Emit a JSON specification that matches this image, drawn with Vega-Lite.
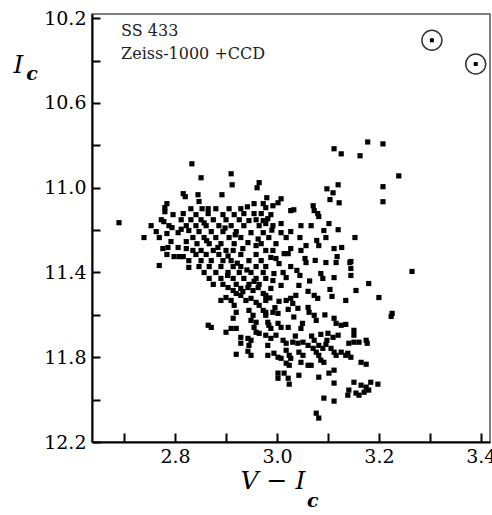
{
"$schema": "https://vega.github.io/schema/vega-lite/v6.json",
"width": 398, "height": 428,
"autosize": {"type": "none"},
"padding": {"left": 92, "top": 14, "right": 2, "bottom": 73},
"background": "white",
"config": {"view": {"stroke": "#555", "strokeWidth": 1.5}},
"datasets": {
"stars": [
{"vi":3.112,"ic":10.816},{"vi":3.126,"ic":10.840},{"vi":3.178,"ic":10.784},{"vi":3.208,"ic":10.793},{"vi":3.163,"ic":10.849},{"vi":3.239,"ic":10.944},{"vi":3.208,"ic":10.995},{"vi":3.208,"ic":11.066},{"vi":3.120,"ic":10.986},{"vi":3.098,"ic":11.005},{"vi":3.110,"ic":11.024},{"vi":3.104,"ic":11.056},{"vi":3.122,"ic":11.071},{"vi":3.265,"ic":11.395},{"vi":3.226,"ic":11.593},{"vi":3.224,"ic":11.607},{"vi":3.200,"ic":11.518},{"vi":3.155,"ic":11.485},{"vi":3.153,"ic":11.235},{"vi":3.145,"ic":11.348},{"vi":3.145,"ic":11.381},{"vi":3.145,"ic":11.414},{"vi":3.180,"ic":11.452},{"vi":3.135,"ic":11.532},{"vi":3.135,"ic":11.645},{"vi":3.151,"ic":11.673},{"vi":3.151,"ic":11.696},{"vi":3.141,"ic":11.734},{"vi":3.151,"ic":11.729},{"vi":3.161,"ic":11.729},{"vi":3.175,"ic":11.720},{"vi":3.177,"ic":11.734},{"vi":3.139,"ic":11.781},{"vi":3.145,"ic":11.800},{"vi":3.165,"ic":11.824},{"vi":3.175,"ic":11.833},{"vi":3.151,"ic":11.918},{"vi":3.165,"ic":11.932},{"vi":3.184,"ic":11.918},{"vi":3.198,"ic":11.927},{"vi":3.175,"ic":11.941},{"vi":3.180,"ic":11.955},{"vi":3.141,"ic":11.955},{"vi":3.155,"ic":11.969},{"vi":3.161,"ic":11.979},{"vi":3.171,"ic":11.965},{"vi":3.139,"ic":11.979},{"vi":3.092,"ic":11.993},{"vi":3.112,"ic":12.007},{"vi":3.077,"ic":12.064},{"vi":3.082,"ic":12.087},
{"vi":2.833,"ic":10.887},{"vi":2.851,"ic":10.953},{"vi":2.910,"ic":10.934},{"vi":2.912,"ic":10.986},{"vi":2.965,"ic":10.976},{"vi":2.961,"ic":11.000},{"vi":2.816,"ic":11.028},{"vi":2.820,"ic":11.042},{"vi":2.845,"ic":11.033},{"vi":2.892,"ic":11.033},{"vi":2.980,"ic":11.047},{"vi":2.784,"ic":11.075},{"vi":2.780,"ic":11.094},{"vi":2.780,"ic":11.113},{"vi":2.816,"ic":11.122},{"vi":2.690,"ic":11.165},{"vi":2.778,"ic":11.160},{"vi":2.794,"ic":11.188},{"vi":2.806,"ic":11.212},{"vi":2.784,"ic":11.216},{"vi":2.827,"ic":11.202},{"vi":2.739,"ic":11.235},{"vi":2.792,"ic":11.254},{"vi":2.776,"ic":11.287},{"vi":2.786,"ic":11.282},{"vi":2.806,"ic":11.282},{"vi":2.822,"ic":11.254},{"vi":2.822,"ic":11.287},{"vi":2.798,"ic":11.325},{"vi":2.808,"ic":11.325},{"vi":2.816,"ic":11.325},{"vi":2.769,"ic":11.367},{"vi":2.827,"ic":11.376},{"vi":2.853,"ic":11.099},{"vi":2.865,"ic":11.099},{"vi":2.865,"ic":11.122},{"vi":2.955,"ic":11.075},{"vi":2.973,"ic":11.075},{"vi":2.978,"ic":11.094},{"vi":2.992,"ic":11.085},{"vi":3.002,"ic":11.071},{"vi":3.008,"ic":11.052},{"vi":2.935,"ic":11.122},{"vi":2.945,"ic":11.155},{"vi":2.955,"ic":11.122},{"vi":2.969,"ic":11.122},{"vi":2.973,"ic":11.155},{"vi":2.982,"ic":11.146},{"vi":2.978,"ic":11.169},{"vi":3.008,"ic":11.169},{"vi":3.008,"ic":11.212},{"vi":2.949,"ic":11.212},{"vi":2.973,"ic":11.212},{"vi":3.027,"ic":11.108},{"vi":3.033,"ic":11.104},{"vi":3.071,"ic":11.085},{"vi":3.073,"ic":11.108},{"vi":3.080,"ic":11.122},{"vi":3.082,"ic":11.136},{"vi":3.102,"ic":11.169},{"vi":3.120,"ic":11.198},{"vi":3.092,"ic":11.202},{"vi":3.096,"ic":11.235},{"vi":3.045,"ic":11.235},{"vi":3.078,"ic":11.249},{"vi":3.027,"ic":11.287},{"vi":2.933,"ic":11.287},{"vi":2.943,"ic":11.259},{"vi":2.959,"ic":11.273},{"vi":3.112,"ic":11.287},{"vi":3.127,"ic":11.282},{"vi":3.118,"ic":11.325},{"vi":2.988,"ic":11.329},{"vi":2.998,"ic":11.334},{"vi":3.014,"ic":11.311},{"vi":3.022,"ic":11.311},{"vi":3.004,"ic":11.358},{"vi":3.055,"ic":11.334},{"vi":3.075,"ic":11.343},{"vi":3.143,"ic":11.353},{"vi":2.994,"ic":11.405},{"vi":3.018,"ic":11.424},{"vi":2.992,"ic":11.438},{"vi":3.008,"ic":11.461},{"vi":2.988,"ic":11.475},{"vi":3.045,"ic":11.414},{"vi":3.043,"ic":11.461},{"vi":3.086,"ic":11.405},{"vi":3.090,"ic":11.428},{"vi":3.112,"ic":11.424},
{"vi":3.061,"ic":11.489},{"vi":3.073,"ic":11.508},{"vi":3.080,"ic":11.522},{"vi":3.104,"ic":11.480},{"vi":3.108,"ic":11.513},{"vi":3.004,"ic":11.536},{"vi":3.018,"ic":11.532},{"vi":3.027,"ic":11.522},{"vi":3.037,"ic":11.508},{"vi":3.031,"ic":11.546},{"vi":3.041,"ic":11.569},{"vi":2.978,"ic":11.508},{"vi":2.978,"ic":11.588},{"vi":3.022,"ic":11.574},{"vi":2.992,"ic":11.588},{"vi":3.002,"ic":11.593},{"vi":3.061,"ic":11.565},{"vi":3.063,"ic":11.588},{"vi":3.073,"ic":11.602},{"vi":3.077,"ic":11.626},{"vi":3.112,"ic":11.616},{"vi":3.116,"ic":11.640},{"vi":3.126,"ic":11.649},{"vi":2.984,"ic":11.649},{"vi":2.988,"ic":11.664},{"vi":3.002,"ic":11.640},{"vi":3.008,"ic":11.659},{"vi":3.022,"ic":11.659},{"vi":3.047,"ic":11.664},{"vi":3.086,"ic":11.692},{"vi":3.100,"ic":11.687},{"vi":3.110,"ic":11.706},{"vi":3.120,"ic":11.696},{"vi":2.978,"ic":11.696},{"vi":2.988,"ic":11.711},{"vi":2.998,"ic":11.696},{"vi":3.012,"ic":11.720},{"vi":3.018,"ic":11.734},{"vi":3.031,"ic":11.729},{"vi":3.041,"ic":11.734},{"vi":3.051,"ic":11.729},{"vi":3.061,"ic":11.744},{"vi":3.073,"ic":11.720},{"vi":3.082,"ic":11.744},{"vi":3.090,"ic":11.758},{"vi":3.096,"ic":11.739},{"vi":3.106,"ic":11.758},{"vi":3.112,"ic":11.776},{"vi":3.071,"ic":11.758},{"vi":3.077,"ic":11.776},{"vi":2.982,"ic":11.744},{"vi":2.982,"ic":11.791},{"vi":2.994,"ic":11.781},{"vi":3.002,"ic":11.800},{"vi":3.018,"ic":11.767},{"vi":3.024,"ic":11.791},{"vi":3.027,"ic":11.805},{"vi":3.043,"ic":11.776},{"vi":3.051,"ic":11.791},{"vi":3.047,"ic":11.824},{"vi":3.061,"ic":11.838},{"vi":3.067,"ic":11.838},{"vi":3.082,"ic":11.791},{"vi":3.086,"ic":11.814},{"vi":3.092,"ic":11.824},{"vi":3.116,"ic":11.791},{"vi":3.126,"ic":11.776},{"vi":3.135,"ic":11.791},{"vi":3.008,"ic":11.805},{"vi":3.018,"ic":11.828},{"vi":3.024,"ic":11.838},{"vi":3.002,"ic":11.875},{"vi":3.014,"ic":11.875},{"vi":3.022,"ic":11.899},{"vi":3.002,"ic":11.899},{"vi":3.024,"ic":11.927},{"vi":3.043,"ic":11.885},{"vi":3.082,"ic":11.894},{"vi":3.102,"ic":11.875},{"vi":3.112,"ic":11.861},{"vi":3.112,"ic":11.922},
{"vi":2.904,"ic":11.471},{"vi":2.914,"ic":11.485},{"vi":2.920,"ic":11.499},{"vi":2.929,"ic":11.475},{"vi":2.943,"ic":11.471},{"vi":2.953,"ic":11.485},{"vi":2.963,"ic":11.471},{"vi":2.973,"ic":11.499},{"vi":2.890,"ic":11.532},{"vi":2.900,"ic":11.518},{"vi":2.910,"ic":11.532},{"vi":2.929,"ic":11.508},{"vi":2.939,"ic":11.532},{"vi":2.949,"ic":11.522},{"vi":2.959,"ic":11.541},{"vi":2.965,"ic":11.555},{"vi":2.978,"ic":11.532},{"vi":2.916,"ic":11.555},{"vi":2.920,"ic":11.588},{"vi":2.914,"ic":11.616},{"vi":2.945,"ic":11.579},{"vi":2.953,"ic":11.602},{"vi":2.949,"ic":11.626},{"vi":2.959,"ic":11.635},{"vi":2.973,"ic":11.579},{"vi":2.978,"ic":11.602},{"vi":2.982,"ic":11.635},{"vi":2.865,"ic":11.649},{"vi":2.871,"ic":11.659},{"vi":2.900,"ic":11.682},{"vi":2.910,"ic":11.664},{"vi":2.920,"ic":11.664},{"vi":2.955,"ic":11.659},{"vi":2.959,"ic":11.682},{"vi":2.965,"ic":11.687},{"vi":2.929,"ic":11.706},{"vi":2.943,"ic":11.711},{"vi":2.949,"ic":11.720},{"vi":2.929,"ic":11.734},{"vi":2.945,"ic":11.744},{"vi":2.920,"ic":11.786},{"vi":2.943,"ic":11.772},{"vi":2.949,"ic":11.791},
{"vi":2.831,"ic":11.099},{"vi":2.880,"ic":11.099},{"vi":2.906,"ic":11.099},{"vi":2.929,"ic":11.099},
{"vi":2.796,"ic":11.127},{"vi":2.841,"ic":11.127},{"vi":2.894,"ic":11.127},{"vi":2.916,"ic":11.127},{"vi":2.988,"ic":11.127},
{"vi":2.773,"ic":11.151},{"vi":2.812,"ic":11.151},{"vi":2.831,"ic":11.151},{"vi":2.851,"ic":11.151},{"vi":2.875,"ic":11.151},{"vi":2.900,"ic":11.151},{"vi":2.926,"ic":11.151},{"vi":2.959,"ic":11.151},
{"vi":2.753,"ic":11.179},{"vi":2.788,"ic":11.179},{"vi":2.822,"ic":11.179},{"vi":2.841,"ic":11.179},{"vi":2.861,"ic":11.179},{"vi":2.886,"ic":11.179},{"vi":2.910,"ic":11.179},{"vi":2.935,"ic":11.179},{"vi":2.965,"ic":11.179},{"vi":2.992,"ic":11.179},
{"vi":2.763,"ic":11.207},{"vi":2.847,"ic":11.207},{"vi":2.871,"ic":11.207},{"vi":2.894,"ic":11.207},{"vi":2.920,"ic":11.207},{"vi":3.027,"ic":11.207},
{"vi":2.769,"ic":11.235},{"vi":2.835,"ic":11.235},{"vi":2.857,"ic":11.235},{"vi":2.880,"ic":11.235},{"vi":2.906,"ic":11.235},{"vi":2.929,"ic":11.235},{"vi":2.984,"ic":11.235},{"vi":3.018,"ic":11.235},
{"vi":2.843,"ic":11.264},{"vi":2.867,"ic":11.264},{"vi":2.890,"ic":11.264},{"vi":2.916,"ic":11.264},{"vi":2.969,"ic":11.264},{"vi":2.998,"ic":11.264},
{"vi":2.835,"ic":11.296},{"vi":2.851,"ic":11.296},{"vi":2.875,"ic":11.296},{"vi":2.900,"ic":11.296},{"vi":2.914,"ic":11.296},{"vi":2.978,"ic":11.296},{"vi":2.992,"ic":11.296},{"vi":3.047,"ic":11.296},
{"vi":2.784,"ic":11.315},{"vi":2.841,"ic":11.315},{"vi":2.861,"ic":11.315},{"vi":2.886,"ic":11.315},{"vi":2.929,"ic":11.315},{"vi":2.959,"ic":11.315},
{"vi":2.827,"ic":11.344},{"vi":2.851,"ic":11.344},{"vi":2.871,"ic":11.344},{"vi":2.894,"ic":11.344},{"vi":2.910,"ic":11.344},{"vi":2.945,"ic":11.344},{"vi":2.969,"ic":11.344},
{"vi":2.847,"ic":11.372},{"vi":2.867,"ic":11.372},{"vi":2.890,"ic":11.372},{"vi":2.914,"ic":11.372},{"vi":2.929,"ic":11.372},{"vi":2.959,"ic":11.372},{"vi":2.978,"ic":11.372},{"vi":3.027,"ic":11.372},
{"vi":2.857,"ic":11.400},{"vi":2.880,"ic":11.400},{"vi":2.904,"ic":11.400},{"vi":2.926,"ic":11.400},{"vi":2.949,"ic":11.400},{"vi":2.973,"ic":11.400},{"vi":3.012,"ic":11.400},
{"vi":2.867,"ic":11.428},{"vi":2.890,"ic":11.428},{"vi":2.914,"ic":11.428},{"vi":2.935,"ic":11.428},{"vi":2.959,"ic":11.428},{"vi":2.978,"ic":11.428},
{"vi":2.875,"ic":11.456},{"vi":2.894,"ic":11.456},{"vi":2.920,"ic":11.456},{"vi":2.945,"ic":11.456},{"vi":2.965,"ic":11.456},
{"vi":3.057,"ic":11.353},{"vi":3.096,"ic":11.353},{"vi":3.116,"ic":11.353},{"vi":3.057,"ic":11.273},{"vi":3.082,"ic":11.273},{"vi":3.047,"ic":11.179},{"vi":3.067,"ic":11.179},
{"vi":2.812,"ic":11.196},{"vi":2.857,"ic":11.166},{"vi":2.898,"ic":11.190},{"vi":2.918,"ic":11.222},{"vi":2.862,"ic":11.250},{"vi":2.884,"ic":11.282},{"vi":2.904,"ic":11.322},{"vi":2.922,"ic":11.356},{"vi":2.941,"ic":11.388},{"vi":2.903,"ic":11.414},{"vi":2.955,"ic":11.442},{"vi":2.933,"ic":11.490},{"vi":2.986,"ic":11.520},{"vi":2.996,"ic":11.566},{"vi":3.033,"ic":11.610},{"vi":3.050,"ic":11.640},{"vi":3.068,"ic":11.700},{"vi":3.098,"ic":11.720},{"vi":3.036,"ic":11.700},{"vi":3.094,"ic":11.600},{"vi":3.039,"ic":11.390},{"vi":3.064,"ic":11.440},{"vi":2.963,"ic":11.242},{"vi":2.990,"ic":11.200},{"vi":2.942,"ic":11.090},{"vi":2.847,"ic":11.065}
],
"circled": [{"vi":3.304,"ic":10.304},{"vi":3.390,"ic":10.416}],
"notes": [{"vi":2.694,"ic":10.285,"label":"SS 433"},{"vi":2.694,"ic":10.393,"label":"Zeiss-1000 +CCD"}],
"subs": [{"vi":2.508,"ic":10.492,"label":"c"},{"vi":3.059,"ic":12.508,"label":"c"}]
},
"layer": [
{"data": {"name": "stars"},
 "mark": {"type": "point", "shape": "square", "filled": true, "size": 27, "color": "black", "opacity": 1},
 "encoding": {
  "x": {"field": "vi", "type": "quantitative",
   "scale": {"domain": [2.637, 3.418], "nice": false, "zero": false},
   "axis": {"values": [2.7,2.8,2.9,3.0,3.1,3.2,3.3,3.4], "format": ".1f",
    "labelExpr": "round(datum.value*10)%2==0 ? datum.label : ''",
    "grid": false, "tickSize": -9, "tickWidth": 2, "tickColor": "black",
    "domainColor": "black", "domainWidth": 2,
    "labelFont": "DejaVu Serif", "labelFontSize": 19, "labelColor": "black", "labelPadding": 14,
    "labelOverlap": false, "labelFlush": false,
    "title": "V − I", "titleFont": "DejaVu Serif", "titleFontStyle": "italic", "titleFontWeight": "normal",
    "titleFontSize": 25, "titleColor": "black", "titleX": 148, "titleY": 46, "titleAlign": "left", "titleBaseline": "alphabetic"}},
  "y": {"field": "ic", "type": "quantitative",
   "scale": {"domain": [10.18, 12.2], "nice": false, "zero": false, "reverse": true},
   "axis": {"values": [10.2,10.4,10.6,10.8,11.0,11.2,11.4,11.6,11.8,12.0,12.2], "format": ".1f",
    "labelExpr": "(round(datum.value*10)-102)%4==0 ? datum.label : ''",
    "grid": false, "tickSize": -8, "tickWidth": 2, "tickColor": "black",
    "domainColor": "black", "domainWidth": 2,
    "labelFont": "DejaVu Serif", "labelFontSize": 19, "labelColor": "black", "labelPadding": 14,
    "labelOverlap": false, "labelFlush": false,
    "title": "I", "titleAngle": 0, "titleFont": "DejaVu Serif", "titleFontStyle": "italic", "titleFontWeight": "normal",
    "titleFontSize": 25, "titleColor": "black", "titleX": -79, "titleY": 58, "titleAlign": "left", "titleBaseline": "alphabetic"}}
 }},
{"data": {"name": "circled"},
 "mark": {"type": "point", "shape": "circle", "filled": false, "size": 400, "stroke": "#333", "strokeWidth": 1.5, "opacity": 1},
 "encoding": {"x": {"field": "vi", "type": "quantitative"}, "y": {"field": "ic", "type": "quantitative"}}},
{"data": {"name": "circled"},
 "mark": {"type": "point", "shape": "square", "filled": true, "size": 16, "color": "black", "opacity": 1},
 "encoding": {"x": {"field": "vi", "type": "quantitative"}, "y": {"field": "ic", "type": "quantitative"}}},
{"data": {"name": "notes"},
 "mark": {"type": "text", "align": "left", "baseline": "alphabetic", "font": "DejaVu Serif", "fontSize": 16, "color": "#222"},
 "encoding": {"x": {"field": "vi", "type": "quantitative"}, "y": {"field": "ic", "type": "quantitative"}, "text": {"field": "label"}}},
{"data": {"name": "subs"},
 "mark": {"type": "text", "align": "left", "baseline": "alphabetic", "font": "DejaVu Serif", "fontStyle": "italic", "fontWeight": "bold", "fontSize": 19, "color": "black"},
 "encoding": {"x": {"field": "vi", "type": "quantitative"}, "y": {"field": "ic", "type": "quantitative"}, "text": {"field": "label"}}}
]
}
